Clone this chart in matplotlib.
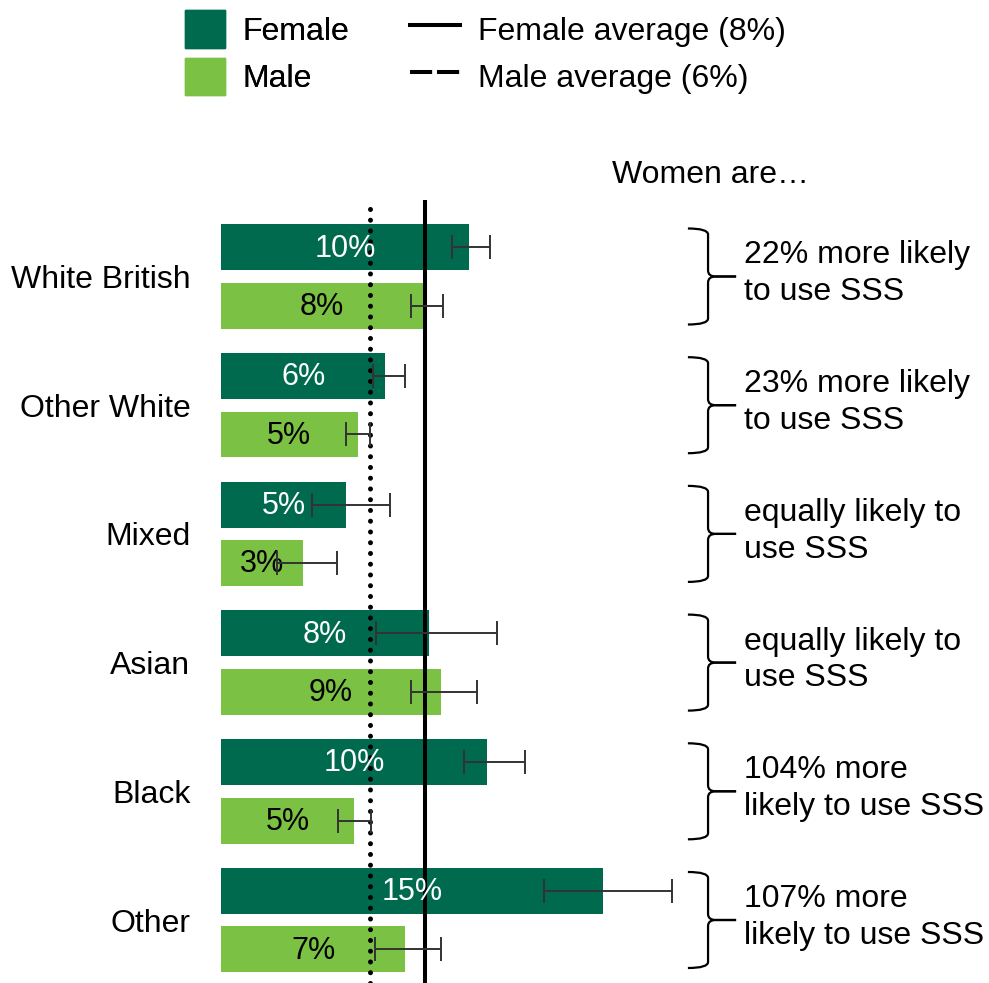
import matplotlib
matplotlib.use("Agg")
import matplotlib.pyplot as plt
from matplotlib.patches import Patch, PathPatch
from matplotlib.lines import Line2D
from matplotlib.path import Path
import numpy as np

plt.rcParams['font.family'] = ['Liberation Sans', 'DejaVu Sans']

# Share using SSS by ethnic group (%), with confidence interval bounds
groups = ["White British", "Other White", "Mixed", "Asian", "Black", "Other"]
female = [9.74, 6.45, 4.91, 8.14, 10.45, 14.98]
female_lo = [9.06, 5.98, 3.58, 6.08, 9.54, 12.65]
female_hi = [10.53, 7.23, 6.63, 10.84, 11.93, 17.69]
male = [7.91, 5.36, 3.20, 8.64, 5.22, 7.23]
male_lo = [7.46, 4.90, 2.20, 7.46, 4.59, 6.05]
male_hi = [8.69, 5.85, 4.55, 10.04, 5.88, 8.61]
female_avg = 8.0
male_avg = 5.85
gap_notes = ["22% more likely\nto use SSS",
             "23% more likely\nto use SSS",
             "equally likely to\nuse SSS",
             "equally likely to\nuse SSS",
             "104% more\nlikely to use SSS",
             "107% more\nlikely to use SSS"]

dark_green = "#006a4e"
light_green = "#7bc143"
fs = 23

fig = plt.figure(figsize=(9.89, 9.83), dpi=100)
ax = fig.add_axes([221 / 989, 0, 768 / 989, 783 / 983])

y = np.arange(len(groups))
off = 0.2275
h = 0.357
fem = np.array(female)
mal = np.array(male)

ax.barh(y - off, fem, height=h, color=dark_green, zorder=1)
ax.barh(y + off, mal, height=h, color=light_green, zorder=1)

ax.axvline(female_avg, color="black", lw=2.9, zorder=2)
ax.axvline(male_avg, color="black", lw=3.6, linestyle=(0, (0.01, 2.14)),
           dash_capstyle="round", zorder=2)

err_kw = dict(fmt="none", ecolor="#333333", elinewidth=1.4, capsize=8.5,
              capthick=1.4, zorder=4)
ax.errorbar(fem, y - off,
            xerr=[fem - np.array(female_lo), np.array(female_hi) - fem], **err_kw)
ax.errorbar(mal, y + off,
            xerr=[mal - np.array(male_lo), np.array(male_hi) - mal], **err_kw)

for yi, v in zip(y, female):
    ax.text(v / 2, yi - off + 0.01, f"{v:.0f}%", ha="center", va="center",
            color="white", fontsize=22, zorder=3)
for yi, v in zip(y, male):
    ax.text(v / 2, yi + off + 0.01, f"{v:.0f}%", ha="center", va="center",
            color="black", fontsize=22, zorder=3)

ax.set_xlim(0, 768 / 25.5)
ax.set_ylim(5.4895, -0.5944)
ax.set_yticks(y, groups, fontsize=fs)
ax.tick_params(axis="y", length=0, pad=22)
ax.set_xticks([])
for s in ax.spines.values():
    s.set_visible(False)

# braces with notes on the right
x0, x1, x2 = 18.31, 19.1, 20.2
bh, r, d = 0.373, 0.047, 0.3
for yi, note in zip(y, gap_notes):
    for sgn in (-1, 1):
        verts = [(x0, yi + sgn * bh), (x1, yi + sgn * bh), (x1, yi + sgn * (bh - r)),
                 (x1, yi + sgn * r), (x1, yi), (x1 + d, yi), (x2, yi)]
        codes = [Path.MOVETO, Path.CURVE3, Path.CURVE3, Path.LINETO,
                 Path.CURVE3, Path.CURVE3, Path.LINETO]
        ax.add_patch(PathPatch(Path(verts, codes), fill=False, lw=1.6,
                               color="black", clip_on=False))
    ax.text(20.5, yi - 0.02, note, ha="left", va="center", fontsize=fs,
            linespacing=1.3, clip_on=False)

ax.text(15.33, -0.789, "Women are…", ha="left", va="center", fontsize=fs,
        clip_on=False)

# legends
leg_kw = dict(loc="upper left", frameon=False, fontsize=fs, handleheight=1.45,
              handletextpad=0.55, labelspacing=0.3, borderpad=0,
              borderaxespad=0)
leg1 = fig.legend(handles=[Patch(color=dark_green), Patch(color=light_green)],
                  labels=["Female", "Male"],
                  bbox_to_anchor=(185 / 989, 1 - 10 / 983),
                  handlelength=1.25, **leg_kw)
fig.add_artist(leg1)
fig.legend(handles=[Line2D([], [], color="black", lw=2.9),
                    Line2D([], [], color="black", lw=2.9, linestyle=(0, (5.5, 1.2)))],
           labels=[f"Female average ({female_avg:.0f}%)", f"Male average ({male_avg:.0f}%)"],
           bbox_to_anchor=(410 / 989, 1 - 10 / 983),
           handlelength=1.57, **leg_kw)

fig.savefig("out.png", dpi=100)
